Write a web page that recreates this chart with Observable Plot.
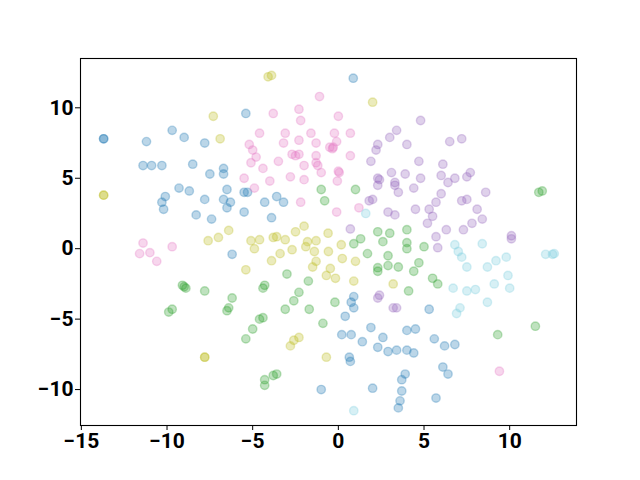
<!DOCTYPE html>
<html><head><meta charset="utf-8">
<script src="https://cdn.jsdelivr.net/npm/d3@7"></script>
<script src="https://cdn.jsdelivr.net/npm/@observablehq/plot@0.6"></script>
<style>
body{margin:0;background:#fff} svg{display:block}
#chart svg text{font-family:Roboto, sans-serif !important; font-size:21px !important; font-weight:bold !important; fill:#000}
</style>
</head><body><div id="chart"></div>
<script>
const seriesNames = ["cluster 1", "cluster 2", "cluster 3", "cluster 4", "cluster 5", "cluster 6"];
const seriesColors = ["#1f77b4", "#bcbd22", "#e377c2", "#9467bd", "#2ca02c", "#7acdde"];
const xTicks = [-15, -10, -5, 0, 5, 10];
const yTicks = [-10, -5, 0, 5, 10];

const blue = [
[-13.7,7.8],[-13.7,7.8],[-11.2,7.6],[-9.7,8.4],[-9.0,7.9],[-7.8,7.5],
[-11.4,5.9],[-10.9,5.9],[-10.3,5.9],[-8.5,6.0],
[-5.4,9.6],[-7.5,5.3],[-6.7,5.7],[-6.7,5.3],[0.87,12.1],
[-10.1,3.7],[-10.3,3.3],[-10.2,2.8],[-9.3,4.3],[-8.7,4.1],[-8.3,2.4],[-7.8,3.5],
[-6.5,4.2],[-6.7,3.5],[-6.3,3.3],[-6.5,2.9],[-7.4,2.1],[-5.5,2.6],[-5.5,4.0],[-5.3,4.0],[-4.3,3.3],[-3.6,3.7],[-3.2,3.3],[-3.9,2.2],[-6.2,-0.4],
[0.9,-3.4],[0.75,-3.8],[0.9,-4.2],
[0.4,-4.8],[0.2,-6.1],[0.75,-6.1],[1.9,-5.6],[1.4,-6.6],[2.6,-6.3],[2.3,-7.0],[2.9,-7.3],[3.4,-7.2],[4.0,-7.2],[4.4,-7.4],[4.0,-5.8],[4.5,-5.7],[5.3,-4.3],[5.6,-6.4],[6.2,-6.9],[6.8,-6.8],[0.64,-7.7],[0.7,-8.0],[6.1,-8.4],[6.4,-8.9],[3.9,-8.9],[3.7,-9.3],[3.7,-10.1],[3.6,-10.8],[3.5,-11.3],[2.0,-9.9],[5.7,-10.6],[-1.0,-10.0]
];
const olive = [
[-13.7,3.8],[-13.7,3.8],[-4.1,12.2],[-3.9,12.3],[-7.3,9.4],[-6.9,7.8],[2.0,10.4],
[-7.6,0.57],[-7.0,0.8],[-6.4,1.3],[-5.1,0.57],[-4.6,0.64],[-4.9,0],[-3.8,0.8],[-3.6,0.85],[-3.1,0.64],[-2.5,1.2],[-2.0,1.6],[-1.8,0.5],[-1.9,0.14],[-1.3,0.57],[-2.7,-0.07],[-3.4,-0.35],[-3.9,-0.85],[-5.4,-1.5],[-1.4,-0.2],[-1.3,-0.9],[-1.5,-1.3],[-0.7,-1.9],[-0.47,-1.4],[-0.6,1.1],[-0.58,-0.2],
[0.17,0.28],[0.23,-0.7],[1.0,-0.9],[-0.17,-2.1],[0.9,-2.3],[3.2,-2.5],
[-7.8,-7.7],[-7.8,-7.7],[-2.8,-6.9],[-2.6,-6.5],[-2.3,-6.3],[-0.7,-7.7]
];
const pink = [
[-3.8,9.6],[-1.1,10.8],[-2.3,9.9],[-2.2,9.1],[-4.6,8.2],[-3.1,8.2],[-3.2,7.5],[-2.3,7.7],[-1.6,8.2],[-1.3,7.5],[-0.5,7.2],[-5.2,7.4],[-5.0,7.0],[-4.8,6.5],[-5.1,6.1],[-4.4,5.7],[-3.5,6.2],[-2.7,6.7],[-2.5,6.6],[-2.3,6.7],[-2.0,5.9],[-1.3,6.6],[-1.3,6.1],[-1.2,5.9],[-1.0,5.4],[-5.5,5.0],[-4.0,4.8],[-2.8,5.1],[-2.0,4.9],
[0,9.4],[-0.23,8.2],[0.7,8.2],[-0.1,7.6],[-0.3,7.2],[-0.35,7.1],[0.7,6.6],[0,5.5],[0.05,5.4],[-0.06,4.8],
[-11.4,0.4],[-11.6,-0.35],[-11.0,-0.28],[-10.6,-0.9],[-9.7,0.14],
[-4.9,4.3],[-2.2,3.3],[-0.1,2.6],[1.2,2.9],[9.4,-8.7]
];
const purple = [
[4.8,9.1],[3.4,8.4],[3.0,7.9],[2.3,7.4],[2.2,7.0],[4.0,7.4],[6.5,7.6],[1.9,6.2],[4.7,6.2],[6.1,6.0],[3.1,5.4],[3.9,5.3],[2.3,5.0],[2.4,4.9],[3.3,4.7],[4.8,5.0],[6.0,5.2],[6.8,5.0],[6.4,4.7],
[7.2,7.8],[7.5,5.1],[7.7,5.4],
[2.3,4.5],[3.5,4.0],[4.4,4.3],[3.3,4.5],[1.8,3.4],[2.0,3.5],[2.9,2.6],[3.3,2.4],[4.5,2.8],[5.3,2.8],[5.7,3.3],[6.0,3.9],[5.5,2.3],[5.2,1.8],[6.3,1.35],[5.7,0.85],[5.8,0.07],[0.7,1.4],[2.3,-3.5],[2.4,-3.3],[3.2,-4.2],[3.4,-4.2],
[8.6,4.0],[7.2,3.4],[7.5,3.5],[8.1,2.8],[8.4,2.1],[7.8,1.8],[7.3,1.35],[10.1,0.92],[10.1,0.7]
];
const green = [
[-9.1,-2.6],[-8.9,-2.8],[-9.0,-2.7],[-7.8,-3.0],[-9.7,-4.3],[-9.9,-4.5],
[-1.0,4.2],[-0.8,3.4],[-3.0,-1.8],[-4.3,-2.6],[-4.4,-2.8],[-1.75,-2.3],[-2.3,-3.1],[-2.6,-3.7],[-6.2,-3.5],
[-6.5,-4.4],[-6.4,-4.2],[-4.6,-5.0],[-4.4,-4.9],[-5.0,-5.7],[-5.4,-6.4],[-3.1,-4.3],[-1.7,-4.3],[-0.9,-5.3],[-4.3,-9.3],[-4.3,-9.7],[-3.8,-9.0],[-3.6,-8.9],
[1.0,4.2],[2.3,1.2],[3.0,1.1],[4.0,1.35],[1.3,0.7],[0.9,0.35],[2.6,0.5],[4.0,0.43],[4.0,0],[5.0,0.14],[1.7,-0.35],[2.9,-0.5],[2.9,-1.2],[2.3,-1.35],[2.3,-1.6],[3.5,-1.3],[4.7,-1.0],[4.4,-1.6],[5.5,-2.1],[5.8,-2.5],[4.1,-3.0],[-0.2,-3.8],
[11.7,4.0],[11.9,4.1],[11.5,-5.5],[9.3,-6.1]
];
const cyan = [
[1.6,2.5],[6.8,0.28],[6.7,-2.8],[7.0,-0.2],[7.2,-0.6],[8.4,0.35],[9.8,-0.6],[9.2,-0.85],[8.7,-1.3],[7.5,-1.3],[12.1,-0.4],[12.5,-0.4],[12.6,-0.35],[9.9,-1.9],[9.1,-2.5],[10.0,-2.8],[8.0,-2.9],[7.5,-3.0],[8.7,-3.8],[7.1,-4.2],[6.9,-4.6],[0.9,-11.5]
];

const groups = [blue, olive, pink, purple, green, cyan];
const data = groups.flatMap((g, i) => g.map(([x, y]) => ({s: seriesNames[i], x, y})));
const fmt = d => (d < 0 ? "\u2212" + Math.abs(d) : String(d));

const chart = Plot.plot({
  width: 640, height: 480,
  marginLeft: 80, marginRight: 64, marginTop: 58, marginBottom: 55,
  style: {fontFamily: "Roboto", fontSize: "21px", fontWeight: "bold", background: "white", color: "black"},
  x: {domain: [-15.05, 13.9], ticks: xTicks, tickFormat: fmt, tickSize: 5, tickPadding: 3, label: null},
  y: {domain: [-12.55, 13.5], ticks: yTicks, tickFormat: fmt, tickSize: 5, tickPadding: 2, label: null},
  color: {type: "ordinal", domain: seriesNames, range: seriesColors},
  marks: [
    Plot.dot(data, {x: "x", y: "y", fill: "s", stroke: "s", r: 4.2, fillOpacity: 0.3, strokeOpacity: 0.3, strokeWidth: 1.4}),
    Plot.frame({stroke: "black", strokeWidth: 1.1})
  ]
});
document.getElementById("chart").appendChild(chart);
</script>
</body></html>
